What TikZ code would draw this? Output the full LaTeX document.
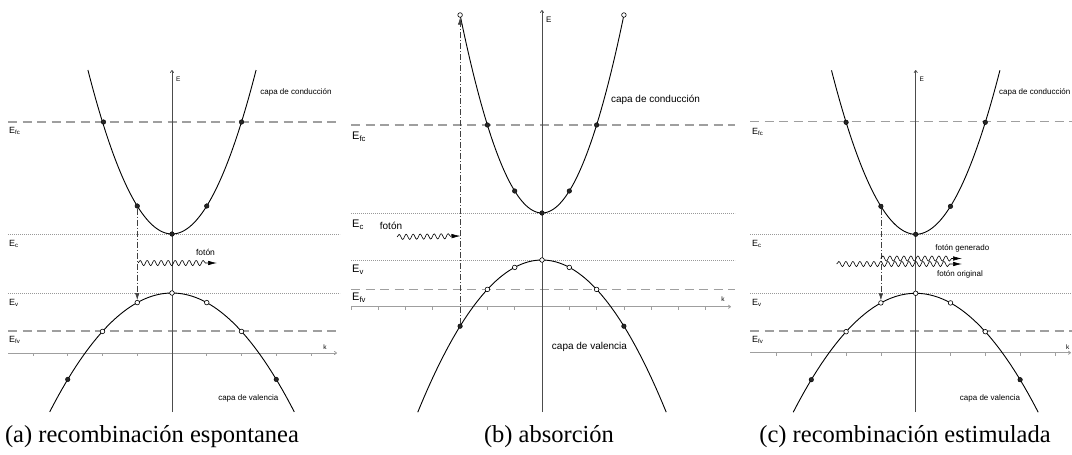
\documentclass[tikz,border=0pt]{standalone}
\usepackage{fontspec}
\setmainfont{Liberation Serif}
\setsansfont{Liberation Sans}
\usetikzlibrary{arrows.meta,decorations.pathmorphing}
\tikzset{
  kaxis/.style={gray!75, line width=0.8pt},
  eaxis/.style={black!70, line width=0.7pt},
  axtip/.style={-{To[length=3pt,width=4pt]}},
  curve/.style={black, line width=0.9pt},
  fermi/.style={gray!75, line width=1.1pt, dash pattern=on 9pt off 5.5pt},
  edgeline/.style={gray!80, line width=0.6pt, dash pattern=on 0.6pt off 1.4pt},
  full/.style={circle, fill=black!85, draw=black, line width=0.4pt, inner sep=0pt, minimum size=4.6pt},
  hole/.style={circle, fill=white, draw=black, line width=0.6pt, inner sep=0pt, minimum size=4.6pt},
  trans/.style={black!75, line width=0.6pt, dash pattern=on 6pt off 2pt on 1pt off 2pt, -{Latex[length=7pt,width=4.5pt]}},
  photon/.style={black, line width=0.6pt, decorate, decoration={snake, segment length=7pt, amplitude=2.6pt, post length=9pt}, -{Latex[length=9pt,width=4.5pt]}},
  lab/.style={font=\sffamily\fontsize{8}{9}\selectfont, inner sep=0pt},
  labb/.style={font=\sffamily\fontsize{10}{11}\selectfont, inner sep=0pt},
  elab/.style={font=\sffamily\fontsize{9}{10}\selectfont, inner sep=0pt, anchor=west},
  elabb/.style={font=\sffamily\fontsize{11}{12}\selectfont, inner sep=0pt, anchor=west},
  axlab/.style={font=\sffamily\fontsize{6.5}{7}\selectfont, inner sep=0pt},
  caption/.style={font=\fontsize{24.5}{28}\selectfont, inner sep=0pt}
}
\begin{document}
\begin{tikzpicture}[x=1pt,y=-1pt]
\useasboundingbox (0,0) rectangle (1072,455);

% ================= Panel (a) =================
\draw[fermi] (8,122) -- (340,122);
\draw[edgeline] (8,234) -- (340,234);
\draw[edgeline] (8,293) -- (340,293);
\draw[fermi] (8,331) -- (340,331);
\draw[kaxis,axtip] (8,353) -- (337,353);
\foreach \n in {-4,-3,-2,-1,1,2,3,4} \draw[kaxis] ({172+34.75*\n},353) -- ++(0,3);
\draw[eaxis,axtip] (172,412) -- (172,70);
\draw[curve] plot[domain=-2.42:2.42,samples=80] ({172+34.75*\x},{234-28*\x*\x});
\draw[curve] plot[domain=-3.52:3.52,samples=80] ({172+34.75*\x},{293+9.6*\x*\x});
\node[full] (aC1) at (103.5,122) {};
\node[full] (aC2) at (241.5,122) {};
\node[full] (aC3) at (137.25,206) {};
\node[full] (aC4) at (206.75,206) {};
\node[full] (aC0) at (172,234) {};
\node[hole] (aV0) at (172,293) {};
\node[hole] (aV1) at (137.25,302.6) {};
\node[hole] (aV2) at (206.75,302.6) {};
\node[hole] (aV3) at (102.5,331.4) {};
\node[hole] (aV4) at (241.5,331.4) {};
\node[full] (aV5) at (67.75,379.4) {};
\node[full] (aV6) at (276.25,379.4) {};
\draw[trans] (aC3) -- (aV1);
\coordinate (aP1) at (138,263);
\coordinate (aP2) at (217,263);
\draw[photon] (aP1) -- (aP2);
\node[lab, font=\sffamily\fontsize{8.5}{9}\selectfont] (aFot) at (205.5,252) {fotón};
\node[elab] (aEfc) at (9,131) {E\textsubscript{fc}};
\node[elab] (aEc) at (9,244) {E\textsubscript{c}};
\node[elab] (aEv) at (9,303) {E\textsubscript{v}};
\node[elab] (aEfv) at (9,340) {E\textsubscript{fv}};
\node[axlab, anchor=west] (aE) at (176,79) {E};
\node[axlab] (ak) at (325,347) {k};
\node[lab] (aCC) at (296,92.3) {capa de conducción};
\node[lab] (aCV) at (248.3,398) {capa de valencia};
\node[caption] (capA) at (152,437) {(a) recombinación espontanea};

% ================= Panel (b) =================
\draw[fermi] (351,125) -- (735,125);
\draw[edgeline] (351,213) -- (735,213);
\draw[edgeline] (351,260) -- (735,260);
\draw[fermi] (351,289.3) -- (735,289.3);
\draw[kaxis,axtip] (351,306.7) -- (731,306.7);
\foreach \n in {-7,-6,-5,-4,-3,-2,-1,1,2,3,4,5,6} \draw[kaxis] ({542+27.3*\n},306.7) -- ++(0,3);
\draw[eaxis,axtip] (542,412) -- (542,10);
\draw[curve] plot[domain=-3:3,samples=80] ({542+27.3*\x},{213-22*\x*\x});
\draw[curve] plot[domain=-4.55:4.55,samples=80] ({542+27.3*\x},{260+7.35*\x*\x});
\node[hole] (bT1) at (460.1,15) {};
\node[hole] (bT2) at (623.9,15) {};
\node[full] (bC1) at (487.4,125) {};
\node[full] (bC2) at (596.6,125) {};
\node[full] (bC3) at (514.7,191) {};
\node[full] (bC4) at (569.3,191) {};
\node[full] (bC0) at (542,213) {};
\node[hole] (bV0) at (542,260) {};
\node[hole] (bV1) at (514.7,267.4) {};
\node[hole] (bV2) at (569.3,267.4) {};
\node[hole] (bV3) at (487.4,289.4) {};
\node[hole] (bV4) at (596.6,289.4) {};
\node[full] (bV5) at (460.1,326.2) {};
\node[full] (bV6) at (623.9,326.2) {};
\draw[trans] (bV5) -- (bT1);
\coordinate (bP1) at (397,237);
\coordinate (bP2) at (460.5,236);
\draw[photon] (bP1) -- (bP2);
\node[labb] (bFot) at (391,226) {fotón};
\node[elabb] (bEfc) at (352,137) {E\textsubscript{fc}};
\node[elabb] (bEc) at (352,225) {E\textsubscript{c}};
\node[elabb] (bEv) at (352,270) {E\textsubscript{v}};
\node[elabb] (bEfv) at (352,298) {E\textsubscript{fv}};
\node[axlab, anchor=west, font=\sffamily\fontsize{8}{9}\selectfont] (bE) at (546,20) {E};
\node[axlab] (bk) at (723,299) {k};
\node[labb] (bCC) at (655.5,100) {capa de conducción};
\node[labb] (bCV) at (589.5,346.7) {capa de valencia};
\node[caption] (capB) at (549,437) {(b) absorción};

% ================= Panel (c) =================
\draw[fermi] (750,121.7) -- (1072,121.7);
\draw[edgeline] (750,234.3) -- (1072,234.3);
\draw[edgeline] (750,293.3) -- (1072,293.3);
\draw[fermi] (750,331) -- (1072,331);
\draw[kaxis,axtip] (750,352.7) -- (1071,352.7);
\foreach \n in {-4,-3,-2,-1,1,2,3,4} \draw[kaxis] ({915.7+34.8*\n},352.7) -- ++(0,3);
\draw[eaxis,axtip] (915.7,412) -- (915.7,70);
\draw[curve] plot[domain=-2.42:2.42,samples=80] ({915.7+34.8*\x},{234.3-28*\x*\x});
\draw[curve] plot[domain=-3.52:3.52,samples=80] ({915.7+34.8*\x},{293.3+9.6*\x*\x});
\node[full] (cC1) at (846.1,122.3) {};
\node[full] (cC2) at (985.3,122.3) {};
\node[full] (cC3) at (880.9,206.3) {};
\node[full] (cC4) at (950.5,206.3) {};
\node[full] (cC0) at (915.7,234.3) {};
\node[hole] (cV0) at (915.7,293.3) {};
\node[hole] (cV1) at (880.9,302.9) {};
\node[hole] (cV2) at (950.5,302.9) {};
\node[hole] (cV3) at (846.1,331.7) {};
\node[hole] (cV4) at (985.3,331.7) {};
\node[full] (cV5) at (811.3,379.7) {};
\node[full] (cV6) at (1020.1,379.7) {};
\draw[trans] (cC3) -- (cV1);
\coordinate (cO1) at (836.7,264);
\coordinate (cO2) at (962,264);
\coordinate (cG1) at (880.7,258.5);
\coordinate (cG2) at (962,258.5);
\draw[photon] (cO1) -- (cO2);
\draw[photon] (cG1) -- (cG2);
\node[lab] (cFg) at (962.3,248.3) {fotón generado};
\node[lab] (cFo) at (960,274) {fotón original};
\node[elab] (cEfc) at (752,131.7) {E\textsubscript{fc}};
\node[elab] (cEc) at (752,244) {E\textsubscript{c}};
\node[elab] (cEv) at (752,303.3) {E\textsubscript{v}};
\node[elab] (cEfv) at (752,340) {E\textsubscript{fv}};
\node[axlab, anchor=west] (cE) at (919.5,79) {E};
\node[axlab] (ck) at (1067.7,346.7) {k};
\node[lab, anchor=east] (cCC) at (1070.5,92.3) {capa de conducción};
\node[lab] (cCV) at (990,398.3) {capa de valencia};
\node[caption] (capC) at (905,437) {(c) recombinación estimulada};
\end{tikzpicture}
\end{document}
